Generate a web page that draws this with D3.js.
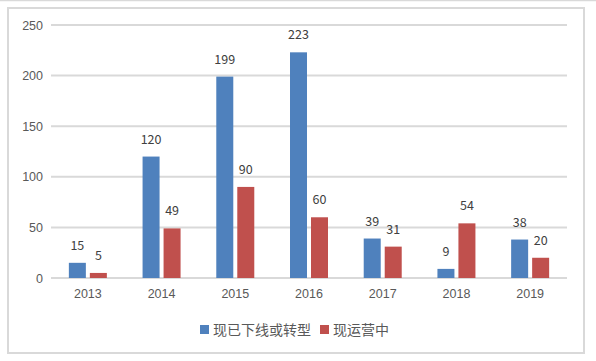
<!DOCTYPE html>
<html>
<head>
<meta charset="utf-8">
<script src="https://cdn.jsdelivr.net/npm/d3@7"></script>
<style>
  body { margin: 0; background: #fff; }
  svg { display: block; font-family: "Noto Sans CJK SC", "Microsoft YaHei", sans-serif; }
</style>
</head>
<body>
<div id="chart"></div>
<script>
const years = ["2013", "2014", "2015", "2016", "2017", "2018", "2019"];
const offline = [15, 120, 199, 223, 39, 9, 38];   // 现已下线或转型
const running = [5, 49, 90, 60, 31, 54, 20];      // 现运营中
const seriesNames = ["现已下线或转型", "现运营中"];
const colors = ["#4F81BD", "#C0504D"];
const yTicks = [0, 50, 100, 150, 200, 250];

const W = 596, H = 361;
const svg = d3.select("#chart").append("svg")
  .attr("width", W)
  .attr("height", H);

// top rule + chart frame
svg.append("line")
  .attr("x1", 0).attr("x2", W).attr("y1", 0.5).attr("y2", 0.5)
  .attr("stroke", "#d9d9d9").attr("stroke-width", 1.5);
svg.append("rect")
  .attr("x", 8).attr("y", 8).attr("width", 576).attr("height", 345)
  .attr("fill", "#fff").attr("stroke", "#d9d9d9").attr("stroke-width", 2);

const plotL = 51, plotR = 567, plotT = 25, plotB = 278;

const x = d3.scaleBand().domain(years).range([plotL, plotR]).paddingInner(0).paddingOuter(0);
const y = d3.scaleLinear().domain([0, 250]).range([plotB, plotT]);

// gridlines
svg.append("g").selectAll("line")
  .data(yTicks)
  .enter()
  .append("line")
  .attr("x1", plotL).attr("x2", plotR)
  .attr("y1", d => y(d)).attr("y2", d => y(d))
  .attr("stroke", "#d9d9d9")
  .attr("stroke-width", 2);

// y axis labels
const yAxis = svg.append("g")
  .attr("transform", `translate(${plotL - 8},0)`)
  .call(d3.axisLeft(y).tickValues(yTicks).tickSize(0).tickPadding(0));
yAxis.select(".domain").remove();
yAxis.selectAll("text")
  .attr("font-size", 12.5)
  .attr("fill", "#595959")
  .attr("font-family", "inherit");

// x axis labels
const xAxis = svg.append("g")
  .attr("transform", `translate(0,${plotB + 11})`)
  .call(d3.axisBottom(x).tickSize(0).tickPadding(0));
xAxis.select(".domain").remove();
xAxis.selectAll("text")
  .attr("font-size", 12.5)
  .attr("fill", "#595959")
  .attr("font-family", "inherit");

// bars
const barW = 17, gap = 4;
const rows = years.map((yr, i) => ({ year: yr, vals: [offline[i], running[i]] }));

rows.forEach(r => {
  r.vals.forEach((v, s) => {
    const cx = x(r.year) + x.bandwidth() / 2;
    const bx = s === 0 ? cx - gap / 2 - barW : cx + gap / 2;
    svg.append("rect")
      .attr("x", bx)
      .attr("y", y(v))
      .attr("width", barW)
      .attr("height", y(0) - y(v))
      .attr("fill", colors[s]);
    svg.append("text")
      .attr("x", bx + barW / 2)
      .attr("y", y(v) - 13)
      .attr("text-anchor", "middle")
      .attr("font-size", 12.5)
      .attr("fill", "#404040")
      .text(v);
  });
});

// legend
const legend = svg.append("g").attr("transform", "translate(200,330)");
let lx = 0;
seriesNames.forEach((name, i) => {
  legend.append("rect")
    .attr("x", lx).attr("y", -5)
    .attr("width", 9).attr("height", 9)
    .attr("fill", colors[i]);
  const t = legend.append("text")
    .attr("x", lx + 13)
    .attr("y", 0)
    .attr("dy", "0.35em")
    .attr("font-size", 14)
    .attr("fill", "#595959")
    .text(name);
  lx += 13 + t.node().getComputedTextLength() + 9;
});
</script>
</body>
</html>
